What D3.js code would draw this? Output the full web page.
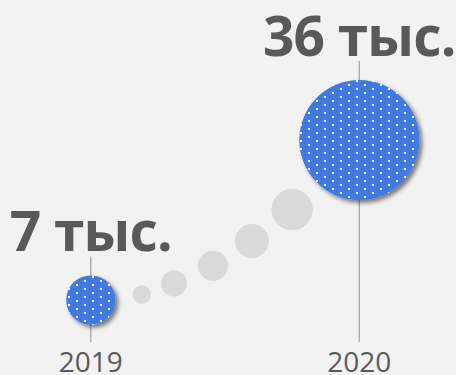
<!DOCTYPE html>
<html>
<head>
<meta charset="utf-8">
<script src="https://cdn.jsdelivr.net/npm/d3@7"></script>
<style>
  html, body { margin: 0; padding: 0; background: #f2f2f2; }
  svg { display: block; }
</style>
</head>
<body>
<svg id="chart" width="456" height="375"></svg>
<script>
// Visitors per year, thousands
const years = [2019, 2020];
const visitors = [7, 36];
const unitSuffix = " тыс.";

// Decorative trail between the two bubbles (year position, value level)
const trailYears = [2019.19, 2019.31, 2019.455, 2019.60, 2019.75];
const trailLevels = [8.0, 10.0, 13.2, 17.7, 23.4];
const trailRadii = [9.3, 13, 15.1, 17, 20.7];

const W = 456, H = 375;
const svg = d3.select("#chart");

svg.append("rect").attr("width", W).attr("height", H).attr("fill", "#f2f2f2");

const x = d3.scaleLinear().domain([2019, 2020]).range([90.8, 359.3]);
const y = d3.scaleLinear().domain([7, 36]).range([300, 140]);
const r = d3.scaleLinear().domain([7, 36]).range([24.6, 60]);

const defs = svg.append("defs");

// White dotted fill for the bubbles
const pat = defs.append("pattern")
  .attr("id", "dots")
  .attr("patternUnits", "userSpaceOnUse")
  .attr("width", 16).attr("height", 8);
pat.append("rect").attr("width", 16).attr("height", 8).attr("fill", "#3f7ae2");
pat.append("rect").attr("x", 4).attr("y", 0).attr("width", 2).attr("height", 2).attr("fill", "#ffffff");
pat.append("rect").attr("x", 12).attr("y", 4).attr("width", 2).attr("height", 2).attr("fill", "#ffffff");

const shadow = defs.append("filter")
  .attr("id", "shadow")
  .attr("x", "-30%").attr("y", "-30%").attr("width", "160%").attr("height", "160%");
shadow.append("feDropShadow")
  .attr("dx", 3).attr("dy", 3).attr("stdDeviation", 2.2)
  .attr("flood-color", "#000").attr("flood-opacity", 0.5);

const data = years.map((yr, i) => ({ year: yr, value: visitors[i] }));
const labelGap = 24;
const axisBottom = 342;

// Guide lines from label down to the year axis
svg.selectAll("line.guide")
  .data(data)
  .enter().append("line")
  .attr("class", "guide")
  .attr("x1", d => x(d.year)).attr("x2", d => x(d.year))
  .attr("y1", d => y(d.value) - r(d.value) - labelGap + 5)
  .attr("y2", axisBottom)
  .attr("stroke", "#a6a6a6")
  .attr("stroke-width", 1.3);

// Trail bubbles
svg.selectAll("circle.trail")
  .data(trailYears.map((t, i) => ({ t, v: trailLevels[i], rad: trailRadii[i] })))
  .enter().append("circle")
  .attr("class", "trail")
  .attr("cx", d => x(d.t))
  .attr("cy", d => y(d.v))
  .attr("r", d => d.rad)
  .attr("fill", "#d9d9d9");

// Value bubbles
svg.selectAll("circle.bubble")
  .data(data)
  .enter().append("circle")
  .attr("class", "bubble")
  .attr("cx", d => x(d.year))
  .attr("cy", d => y(d.value))
  .attr("r", d => r(d.value))
  .attr("fill", "url(#dots)")
  .attr("filter", "url(#shadow)");

// Value labels
svg.selectAll("text.value")
  .data(data)
  .enter().append("text")
  .attr("class", "value")
  .attr("x", d => x(d.year))
  .attr("y", d => y(d.value) - r(d.value) - labelGap)
  .attr("text-anchor", "middle")
  .attr("font-family", "'Open Sans', sans-serif")
  .attr("font-weight", 700)
  .attr("font-size", 55)
  .attr("letter-spacing", -0.8)
  .attr("fill", "#595959")
  .text(d => d.value + unitSuffix);

// Year labels
svg.selectAll("text.year")
  .data(data)
  .enter().append("text")
  .attr("class", "year")
  .attr("x", d => x(d.year))
  .attr("y", 372)
  .attr("text-anchor", "middle")
  .attr("font-family", "'Open Sans', sans-serif")
  .attr("font-size", 28)
  .attr("fill", "#595959")
  .text(d => d.year);
</script>
</body>
</html>
